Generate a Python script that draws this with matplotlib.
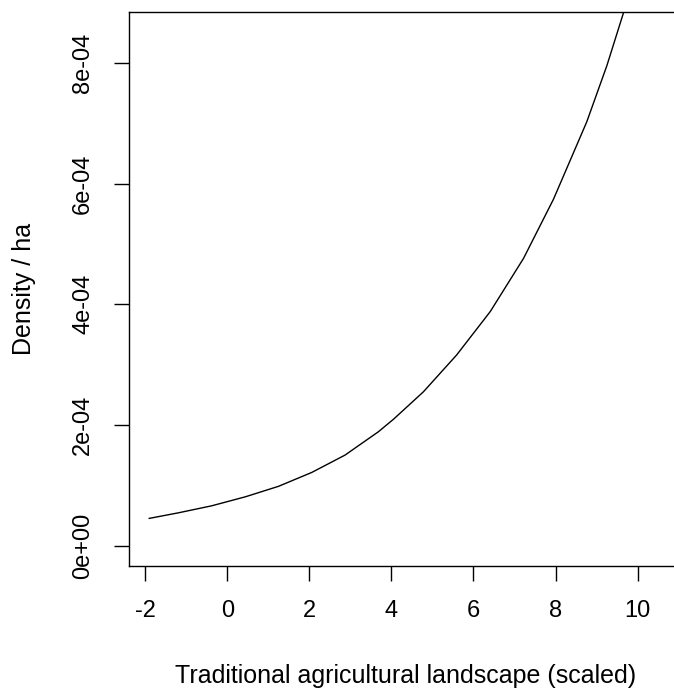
import matplotlib
matplotlib.use("Agg")
import matplotlib.pyplot as plt

plt.rcParams['font.family'] = ['Liberation Sans', 'DejaVu Sans']

# fitted density curve (x scaled, density per ha)
landscape = [-1.90, -1.19, -0.38, 0.44, 1.25, 2.06, 2.87, 3.68, 4.05, 4.78,
             5.59, 6.41, 7.22, 7.95, 8.76, 9.25, 9.65]
density = [0.454e-4, 0.546e-4, 0.662e-4, 0.811e-4, 0.985e-4, 1.215e-4, 1.502e-4,
           1.887e-4, 2.095e-4, 2.550e-4, 3.160e-4, 3.880e-4, 4.760e-4, 5.740e-4,
           7.020e-4, 7.950e-4, 8.815e-4]

xticks = [-2, 0, 2, 4, 6, 8, 10]
xticklabels = ['-2', '0', '2', '4', '6', '8', '10']
yticks = [0, 2e-4, 4e-4, 6e-4, 8e-4]
yticklabels = ['0e+00', '2e-04', '4e-04', '6e-04', '8e-04']

fig = plt.figure(figsize=(6.74, 6.91), dpi=100)
# the box runs past the right edge of the figure
ax = fig.add_axes([0.191, 0.1813, 0.822, 0.8013])

ax.plot(landscape, density, color='black', linewidth=1.0)

ax.set_xlim(-2.40, 11.1)
ax.set_ylim(-0.33e-4, 8.84e-4)

ax.set_xticks(xticks)
ax.set_xticklabels(xticklabels)
ax.set_yticks(yticks)
ax.set_yticklabels(yticklabels, rotation=90, va='center')

ax.tick_params(axis='both', direction='out', length=11, width=1.0,
               labelsize=17, color='black')
ax.tick_params(axis='x', pad=14)
ax.tick_params(axis='y', pad=14)

for s in ax.spines.values():
    s.set_linewidth(1.0)
    s.set_color('black')

ax.set_xlabel('Traditional agricultural landscape (scaled)', fontsize=18, labelpad=30)
ax.set_ylabel('Density / ha', fontsize=18, labelpad=26)

fig.savefig('out.png', dpi=100)
